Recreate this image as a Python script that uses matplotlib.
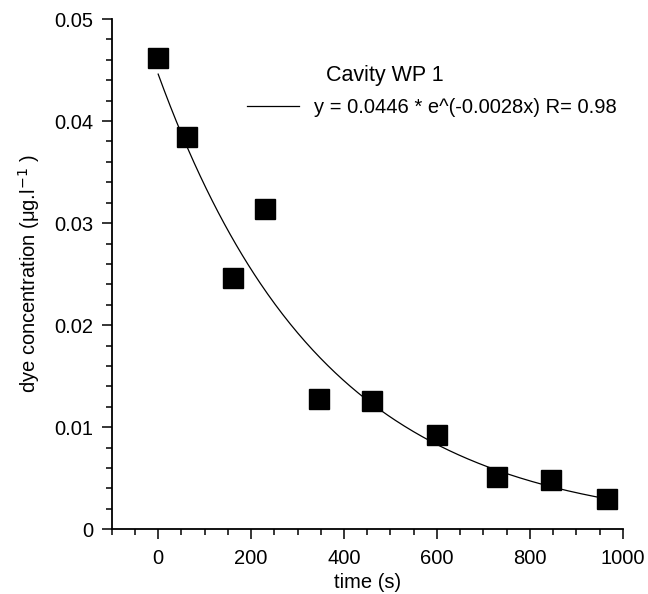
"""Dye concentration decay in cavity WP 1 with exponential fit."""

import matplotlib
matplotlib.use("Agg")
import matplotlib.pyplot as plt
import numpy as np
from matplotlib.ticker import MultipleLocator

time_s = [0, 61, 160, 230, 346, 460, 601, 730, 845, 966]
conc = [0.0462, 0.03845, 0.0246, 0.0314, 0.0128, 0.0126, 0.0092, 0.00515, 0.0048, 0.00294]

# fit parameters as given in the legend
fit_a = 0.0446
fit_k = 0.0028
fit_label = "y = 0.0446 * e^(-0.0028x) R= 0.98"

plt.rcParams["font.family"] = ["Liberation Sans", "DejaVu Sans"]
fs = 14.5

fig = plt.figure(figsize=(6.48, 5.94), dpi=100)
ax = fig.add_axes([0.1724, 0.1089, 0.961 - 0.1724, 0.968 - 0.1089])

t_fit = np.linspace(time_s[0], time_s[-1], 300)
ax.plot(t_fit, fit_a * np.exp(-fit_k * t_fit), color="black", lw=0.9,
        label=fit_label, zorder=2)
ax.plot(time_s, conc, ls="none", marker="s", ms=14.5, color="black", zorder=3)

ax.set_xlim(-100, 1000)
ax.set_ylim(0, 0.05)
ax.xaxis.set_major_locator(MultipleLocator(200))
ax.xaxis.set_minor_locator(MultipleLocator(50))
ax.yaxis.set_minor_locator(MultipleLocator(0.002))
ax.set_yticks([0, 0.01, 0.02, 0.03, 0.04, 0.05])
ax.set_yticklabels(["0", "0.01", "0.02", "0.03", "0.04", "0.05"])

for side in ("top", "right"):
    ax.spines[side].set_visible(False)
for side in ("left", "bottom"):
    ax.spines[side].set_linewidth(1.3)

ax.tick_params(which="major", direction="out", length=7, width=1.1, labelsize=fs)
ax.tick_params(axis="x", which="major", pad=7.5)
ax.tick_params(axis="y", which="major", pad=6)
ax.tick_params(which="minor", direction="out", length=4.3, width=1.1)

ax.set_xlabel("time (s)", fontsize=fs, labelpad=3)
ax.set_ylabel(r"dye concentration (μg.l$^{-1}$ )", fontsize=fs, labelpad=9)

ax.legend(loc="center left", bbox_to_anchor=(0.3807, 0.8187),
          bbox_transform=fig.transFigure, frameon=False, borderpad=0,
          borderaxespad=0, handlelength=3.15 * 12 / fs, handletextpad=0.75,
          fontsize=fs)
fig.text(0.5026, 0.8737, "Cavity WP 1", ha="left", va="center", fontsize=15.5)

fig.savefig("out.png", dpi=100)
